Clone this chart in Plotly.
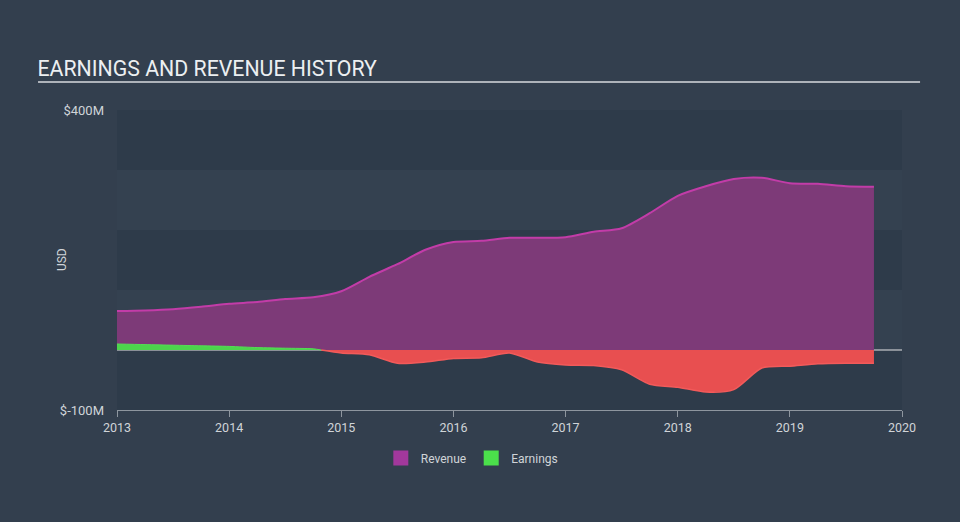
import numpy as np
import plotly.graph_objects as go

# ---- data (USD millions) ----
quarters = [2013.0, 2013.25, 2013.5, 2013.75, 2014.0, 2014.25, 2014.5, 2014.75,
            2015.0, 2015.25, 2015.5, 2015.75, 2016.0, 2016.25, 2016.5, 2016.75,
            2017.0, 2017.25, 2017.5, 2017.75, 2018.0, 2018.25, 2018.5, 2018.75,
            2019.0, 2019.25, 2019.5, 2019.75]
revenue = [65, 66, 68, 72, 77, 80, 85, 88,
           98, 122, 143, 167, 180, 182, 187, 187,
           188, 197, 203, 228, 257, 273, 285, 287,
           278, 277, 273, 272]
earnings = [10, 9, 8, 7, 6, 4, 3, 2,
            -5, -8, -22, -20, -14, -13, -5, -20,
            -25, -26, -33, -57, -62, -70, -66, -30,
            -27, -23, -22, -22]
year_ticks = [2013, 2014, 2015, 2016, 2017, 2018, 2019, 2020]
year_labels = ["2013", "2014", "2015", "2016", "2017", "2018", "2019", "2020"]
y_ticks = [400, -100]
y_labels = ["$400M", "$-100M"]
band_edges = [-100, 0, 100, 200, 300, 400]

# split earnings into positive / negative parts with interpolated crossings
xs, pos, neg = [], [], []
for i in range(len(quarters)):
    if i > 0 and (earnings[i - 1] > 0) != (earnings[i] > 0):
        x0, x1 = quarters[i - 1], quarters[i]
        e0, e1 = earnings[i - 1], earnings[i]
        xc = x0 + (x1 - x0) * e0 / (e0 - e1)
        xs.append(xc); pos.append(0); neg.append(0)
    xs.append(quarters[i])
    pos.append(max(earnings[i], 0))
    neg.append(min(earnings[i], 0))
xs = np.array(xs); pos = np.array(pos); neg = np.array(neg)
pmask = np.zeros(len(xs), bool)
nmask = np.zeros(len(xs), bool)
for i in range(len(xs)):
    pmask[i] = pos[i] > 0 or (i + 1 < len(xs) and pos[i + 1] > 0) or (i > 0 and pos[i - 1] > 0)
    nmask[i] = neg[i] < 0 or (i + 1 < len(xs) and neg[i + 1] < 0) or (i > 0 and neg[i - 1] < 0)

fig = go.Figure()
fig.add_trace(go.Scatter(
    x=quarters, y=revenue, mode="lines", fill="tozeroy",
    line=dict(color="#c23ca8", width=2, shape="spline", smoothing=0.7),
    fillcolor="#7d3a78", showlegend=False, hoverinfo="skip"))
fig.add_trace(go.Scatter(
    x=xs[pmask], y=pos[pmask], mode="lines", fill="tozeroy",
    line=dict(color="#55dd55", width=1, shape="spline", smoothing=0.7),
    fillcolor="#4cd44c", showlegend=False, hoverinfo="skip"))
fig.add_trace(go.Scatter(
    x=xs[nmask], y=neg[nmask], mode="lines", fill="tozeroy",
    line=dict(color="#f25a5a", width=1.5, shape="spline", smoothing=0.7),
    fillcolor="#e84f50", showlegend=False, hoverinfo="skip"))
# legend entries
fig.add_trace(go.Scatter(x=[None], y=[None], mode="markers", name="Revenue",
                         marker=dict(symbol="square", size=15, color="#a2389c")))
fig.add_trace(go.Scatter(x=[None], y=[None], mode="markers", name="Earnings",
                         marker=dict(symbol="square", size=15, color="#4be04b")))

shapes = []
for i in range(len(band_edges) - 1):
    if i % 2 == 0:
        shapes.append(dict(type="rect", xref="paper", yref="y", x0=0, x1=1,
                           y0=band_edges[i], y1=band_edges[i + 1],
                           fillcolor="#2e3b4a", line=dict(width=0), layer="below"))
    else:
        shapes.append(dict(type="rect", xref="paper", yref="y", x0=0, x1=1,
                           y0=band_edges[i], y1=band_edges[i + 1],
                           fillcolor="#344150", line=dict(width=0), layer="below"))
# title underline
shapes.append(dict(type="line", xref="paper", yref="paper",
                   x0=-0.1006, x1=1.023, y0=1.093, y1=1.093,
                   line=dict(color="#aeb3ba", width=2)))
# zero line
shapes.append(dict(type="line", xref="paper", yref="y", x0=0, x1=1, y0=0, y1=0,
                   line=dict(color="#e6e6e6", width=1), layer="below"))

fig.update_layout(
    width=960, height=522,
    margin=dict(l=117, r=58, t=110, b=112),
    paper_bgcolor="#333f4e",
    plot_bgcolor="#333f4e",
    font=dict(family="Roboto, sans-serif", color="#d0d4d8", size=12),
    title=dict(text="EARNINGS AND REVENUE HISTORY", xref="container", x=0.039,
               yref="container", y=0.869, xanchor="left", yanchor="middle",
               font=dict(size=21.3, color="#eceff1", family="Roboto, sans-serif")),
    shapes=shapes,
    annotations=[dict(text="USD", xref="paper", yref="paper", x=-0.07, y=0.5,
                      textangle=-90, showarrow=False, xanchor="center", yanchor="middle",
                      font=dict(size=12, color="#d0d4d8"))],
    showlegend=True,
    legend=dict(orientation="h", x=0.452, xanchor="center", y=-0.16, yanchor="middle",
                font=dict(size=12, color="#d0d4d8"), bgcolor="rgba(0,0,0,0)",
                itemwidth=30, tracegroupgap=0),
    xaxis=dict(range=[2013, 2020], tickvals=year_ticks, ticktext=year_labels,
               showgrid=False, zeroline=False, showline=True, linecolor="#8e969f",
               linewidth=1, ticks="outside", ticklen=6, tickcolor="#8e969f",
               tickfont=dict(size=12.5, color="#d0d4d8"), fixedrange=True),
    yaxis=dict(range=[-100, 400], tickvals=y_ticks, ticktext=y_labels,
               showgrid=False, zeroline=False, showline=False, ticks="",
               ticklabelstandoff=12,
               tickfont=dict(size=13, color="#d0d4d8"),
               fixedrange=True),
    hovermode=False,
)

fig.write_html("out.html")
